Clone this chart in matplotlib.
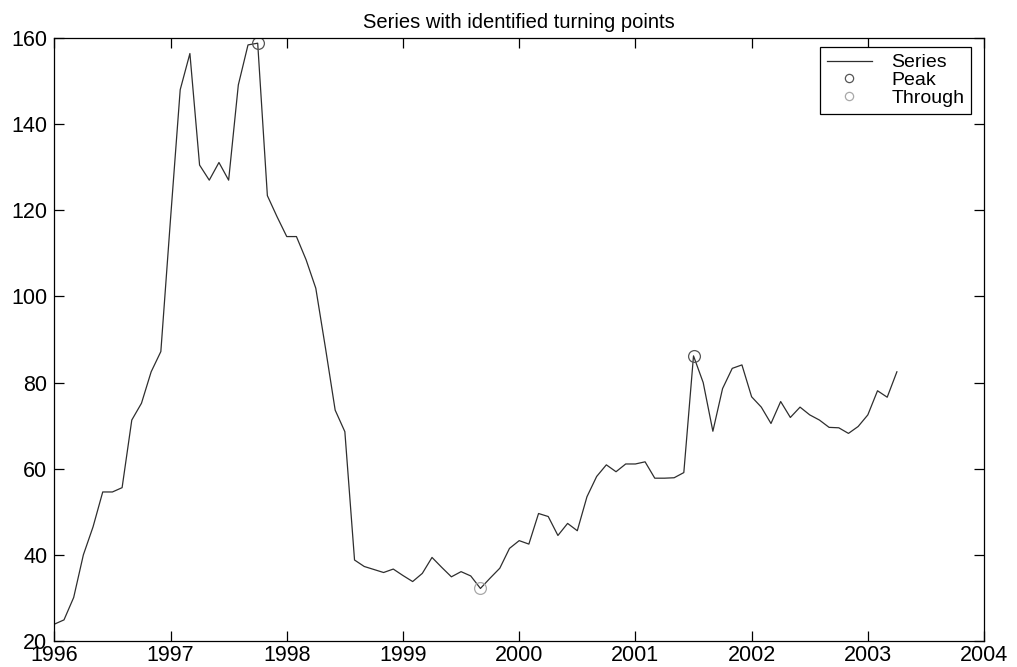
import numpy as np
import matplotlib
matplotlib.use("Agg")
import matplotlib.pyplot as plt

# Monthly observations, January 1996 to April 2003
start_year = 1996
values = [
    23.9, 24.9, 30.1, 40.0, 46.5, 54.6, 54.6, 55.6, 71.3, 75.2, 82.5, 87.2,
    118.0, 148.0, 156.4, 130.5, 127.0, 131.1, 127.0, 149.1, 158.4, 158.8, 123.4, 118.5,
    113.9, 113.9, 108.5, 101.9, 88.0, 73.6, 68.6, 38.8, 37.3, 36.6, 35.9, 36.7,
    35.2, 33.8, 35.7, 39.4, 37.1, 34.9, 36.1, 35.1, 32.2, 34.6, 36.9, 41.5,
    43.3, 42.5, 49.6, 48.9, 44.5, 47.3, 45.6, 53.5, 58.2, 60.9, 59.3, 61.1,
    61.1, 61.6, 57.8, 57.8, 57.9, 59.1, 86.2, 80.0, 68.7, 78.6, 83.3, 84.1,
    76.7, 74.3, 70.5, 75.6, 71.9, 74.3, 72.5, 71.3, 69.6, 69.5, 68.2, 69.8,
    72.5, 78.1, 76.6, 82.5,
]
# Positions (month index) of the detected turning points
peak_idx = [21, 66]
trough_idx = [44]

x_ticks = [1996, 1997, 1998, 1999, 2000, 2001, 2002, 2003, 2004]
y_ticks = [20, 40, 60, 80, 100, 120, 140, 160]

plt.rcParams["font.family"] = ["Liberation Sans", "DejaVu Sans"]

t = start_year + np.arange(len(values)) / 12.0
y = np.asarray(values)

fig = plt.figure(figsize=(10.17, 6.67), dpi=100)
ax = fig.add_axes([0.0534, 0.039, 0.9142, 0.904])

ax.plot(t, y, color="#2e2e2e", lw=0.9, label="Series")
ax.plot(t[peak_idx], y[peak_idx], linestyle="none", marker="o", ms=8.5,
        mfc="none", mec="#555555", mew=0.9, label="Peak")
ax.plot(t[trough_idx], y[trough_idx], linestyle="none", marker="o", ms=8.5,
        mfc="none", mec="#a8a8a8", mew=0.9, label="Through")

ax.set_xlim(1996, 2004)
ax.set_ylim(20, 160)
ax.set_xticks(x_ticks)
ax.set_yticks(y_ticks)
ax.set_xticklabels([str(v) for v in x_ticks])
ax.set_yticklabels([str(v) for v in y_ticks])

ax.tick_params(direction="in", length=7, width=0.9, top=True, right=True,
               labelsize=15.5, colors="black", pad=3)
ax.tick_params(axis="y", pad=5)
for s in ax.spines.values():
    s.set_linewidth(0.9)
    s.set_color("black")

ax.set_title("Series with identified turning points", fontsize=14.5, pad=7)

leg = ax.legend(loc="upper right", bbox_to_anchor=(0.986, 0.985),
                borderaxespad=0, fontsize=14, fancybox=False,
                framealpha=1, edgecolor="black", handlelength=2.3,
                handletextpad=1.0, labelspacing=0.0, borderpad=0.35,
                markerscale=0.7)
leg.get_frame().set_linewidth(0.9)

fig.savefig("out.png", dpi=100)
